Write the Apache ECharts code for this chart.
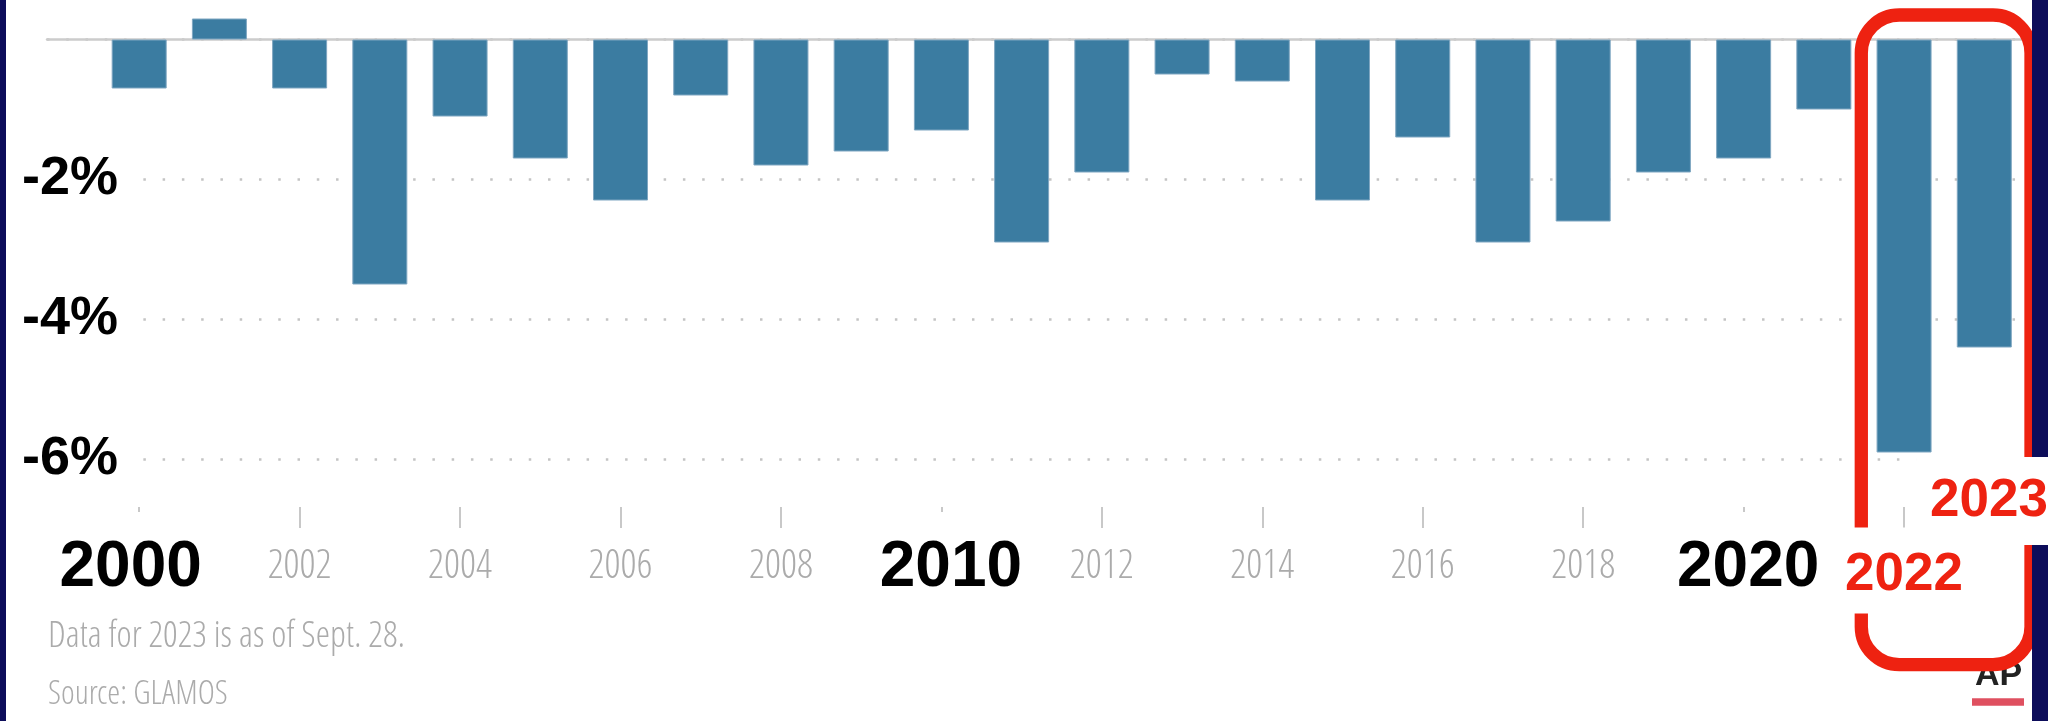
<!DOCTYPE html>
<html>
<head>
<meta charset="utf-8">
<script src="https://cdn.jsdelivr.net/npm/echarts@6/dist/echarts.min.js"></script>
<style>
  html, body { margin: 0; padding: 0; background: #fff; }
  #chart { width: 2048px; height: 721px; }
</style>
</head>
<body>
<div id="chart"></div>
<script>
// Annual change in Swiss glacier volume, in percent (GLAMOS)
const years = [2000, 2001, 2002, 2003, 2004, 2005, 2006, 2007, 2008, 2009, 2010, 2011,
               2012, 2013, 2014, 2015, 2016, 2017, 2018, 2019, 2020, 2021, 2022, 2023];
const volumeChange = [-0.7, 0.3, -0.7, -3.5, -1.1, -1.7, -2.3, -0.8, -1.8, -1.6, -1.3, -2.9,
                      -1.9, -0.5, -0.6, -2.3, -1.4, -2.9, -2.6, -1.9, -1.7, -1.0, -5.9, -4.4];
const tickYears = [2000, 2002, 2004, 2006, 2008, 2010, 2012, 2014, 2016, 2018, 2020, 2022];
const boldYears = [2000, 2010, 2020];
const highlightYear = 2022;
const latestLabel = '2023';
const noteLines = ['Data for 2023 is as of Sept. 28.', 'Source: GLAMOS'];
const logoText = 'AP';

const SANS = '"Liberation Sans", Arial, sans-serif';
const BAR = '#3b7ca1';
const RED = '#ee2211';
const NAVY = '#0d0d5a';
const GREY_TEXT = '#ababab';
const THIN = 300;

// Pick the narrowest installed face for the small grey type
const measureCtx = document.createElement('canvas').getContext('2d');
function textWidth(font, s) { measureCtx.font = font; return measureCtx.measureText(s).width; }
function firstInstalled(families) {
  const probe = 'Data 2002 GLAMOS Sept.';
  for (const fam of families) {
    const a = textWidth('40px ' + fam + ', monospace', probe);
    const b = textWidth('40px monospace', probe);
    if (Math.abs(a - b) > 0.5) return fam;
  }
  return null;
}
const NARROW = (firstInstalled(['"Noto Sans ExtraCondensed"', '"Noto Sans Condensed"',
  '"Liberation Sans Narrow"', '"Open Sans Condensed Light"', '"Open Sans Condensed"',
  '"DejaVu Sans Condensed"']) || '"Liberation Sans"') + ', sans-serif';

// year labels about 64px wide
let tickSize = 40;
const yearW = textWidth(THIN + ' ' + tickSize + 'px ' + NARROW, '2002');
if (yearW > 66) tickSize = Math.max(31, tickSize * 66 / yearW);

// footnotes squeezed to their set width when the face runs wide
const noteSizes = [37, 33];
const noteWidths = [357, 193];
const noteFonts = noteSizes.map(s => THIN + ' ' + s + 'px ' + NARROW);
const noteScale = noteLines.map((t, i) => Math.min(1, noteWidths[i] / textWidth(noteFonts[i], t)));

const X_MIN = 1998.851, X_MAX = 2023.47;

const chart = echarts.init(document.getElementById('chart'), null, { renderer: 'canvas' });

const option = {
  animation: false,
  backgroundColor: '#fff',
  grid: { left: 47, right: 26, top: 39.5, bottom: 261.5, containLabel: false },
  xAxis: [
    {
      // carries the bars; its line is the zero baseline along the top of the grid
      type: 'value', min: X_MIN, max: X_MAX, position: 'top', z: 1,
      axisLine: { show: true, onZero: false, lineStyle: { color: '#cccccc', width: 2.5 } },
      axisTick: { show: false },
      axisLabel: { show: false },
      splitLine: { show: false }
    },
    {
      // year ticks and labels below the plot
      type: 'value', min: X_MIN, max: X_MAX, position: 'bottom', offset: 47.5, z: 45,
      axisLine: { show: false, onZero: false },
      axisTick: { show: true, inside: false, length: 21, customValues: tickYears,
                  lineStyle: { color: '#c8c8c8', width: 2 } },
      axisLabel: {
        show: true, margin: 4, customValues: tickYears,
        formatter: function (v) {
          const y = Math.round(v);
          const bi = boldYears.indexOf(y);
          let key = 'g';
          if (bi >= 0) key = 'b' + bi;
          else if (y === highlightYear) key = 'r';
          return '{' + key + '|' + y + '}';
        },
        rich: {
          g: { fontFamily: NARROW, fontWeight: THIN, fontSize: tickSize, color: GREY_TEXT, lineHeight: 113 },
          b0: { fontFamily: SANS, fontWeight: 'bold', fontSize: 64, color: '#000', lineHeight: 110,
                backgroundColor: '#fff', padding: [24, 21, 20, 4] },
          b1: { fontFamily: SANS, fontWeight: 'bold', fontSize: 64, color: '#000', lineHeight: 110,
                backgroundColor: '#fff', padding: [24, 3, 20, 22] },
          b2: { fontFamily: SANS, fontWeight: 'bold', fontSize: 64, color: '#000', lineHeight: 110,
                backgroundColor: '#fff', padding: [24, 3, 20, 12] },
          r: { fontFamily: SANS, fontWeight: 'bold', fontSize: 53, color: RED, lineHeight: 119,
               backgroundColor: '#fff', padding: [21.5, 8, 11.5, 8] }
        }
      },
      splitLine: { show: false }
    }
  ],
  yAxis: [
    {
      // dotted gridlines
      type: 'value', min: -6, max: 0, interval: 2,
      axisLine: { show: false }, axisTick: { show: false }, axisLabel: { show: false },
      splitLine: { show: true, lineStyle: { color: '#c4c4c4', width: 2.5, type: [2.5, 16.77] } }
    },
    {
      // percent labels
      type: 'value', min: -6, max: 0, interval: 2, position: 'left', offset: -93, z: 3,
      axisLine: { show: false }, axisTick: { show: false }, splitLine: { show: false },
      axisLabel: {
        show: true, margin: 0,
        formatter: function (v) { return v < 0 ? '{p|' + v + '%}' : ''; },
        rich: {
          p: { fontFamily: SANS, fontWeight: 'bold', fontSize: 54, color: '#000',
               backgroundColor: '#fff', padding: [4, 22, 4, 4] }
        }
      }
    }
  ],
  series: [
    {
      type: 'bar', xAxisIndex: 0, yAxisIndex: 0,
      barWidth: 55, clip: false,
      itemStyle: { color: BAR, borderColor: '#7fa6c1', borderWidth: 1 },
      data: years.map((y, i) => [y, volumeChange[i]])
    }
  ],
  graphic: [
    { type: 'rect', z: 40, silent: true,
      shape: { x: 1861.3, y: 15, width: 169.7, height: 649.7, r: 38 },
      style: { fill: 'none', stroke: RED, lineWidth: 13.3 } },
    { type: 'rect', z: 50, silent: true, shape: { x: 0, y: 0, width: 6, height: 721 }, style: { fill: NAVY } },
    { type: 'rect', z: 50, silent: true, shape: { x: 2032, y: 0, width: 16, height: 721 }, style: { fill: NAVY } },
    { type: 'text', z: 60, silent: true,
      style: { text: latestLabel, x: 1983, y: 501, align: 'center', verticalAlign: 'middle',
               font: 'bold 53px ' + SANS, fill: RED, backgroundColor: '#fff', padding: [23.5, 2, 11.5, 14] } },
    { type: 'text', z: 55, silent: true, x: 48, y: 637, scaleX: noteScale[0],
      style: { text: noteLines[0], x: 0, y: 0, align: 'left', verticalAlign: 'middle',
               font: noteFonts[0], fill: GREY_TEXT } },
    { type: 'text', z: 55, silent: true, x: 48, y: 695, scaleX: noteScale[1],
      style: { text: noteLines[1], x: 0, y: 0, align: 'left', verticalAlign: 'middle',
               font: noteFonts[1], fill: GREY_TEXT } },
    { type: 'text', z: 30, silent: true,
      style: { text: logoText, x: 1975, y: 675.5, align: 'left', verticalAlign: 'middle',
               font: 'bold 34px ' + SANS, fill: '#222' } },
    { type: 'rect', z: 30, silent: true, shape: { x: 1972, y: 698.3, width: 52, height: 7.4 }, style: { fill: '#df5060' } }
  ]
};

chart.setOption(option);
</script>
</body>
</html>
